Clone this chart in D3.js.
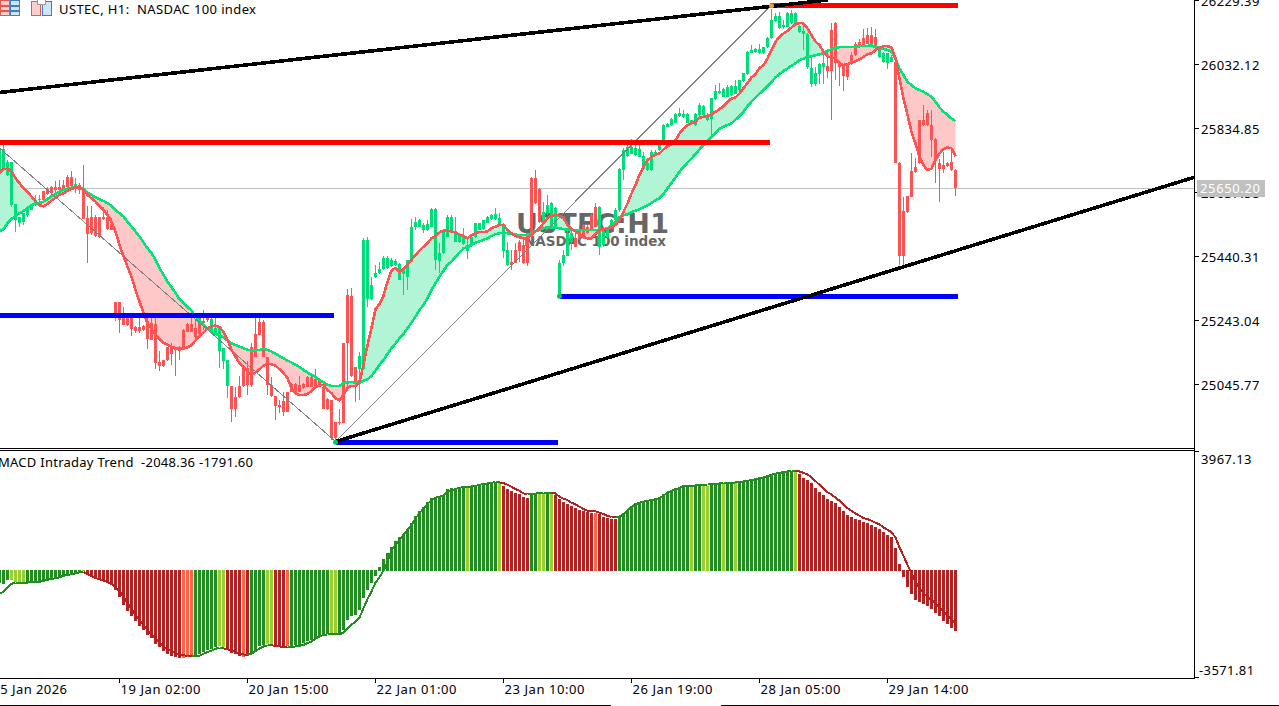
<!DOCTYPE html>
<html><head><meta charset="utf-8">
<script src="https://cdn.jsdelivr.net/npm/d3@7"></script>
<style>
html,body{margin:0;padding:0;background:#fff;overflow:hidden}
svg{display:block}
text{font-family:"Noto Sans",sans-serif;font-size:13px;fill:#000;white-space:pre}
.crisp{shape-rendering:crispEdges}
</style></head><body>
<div id="chart"></div>
<script>
const opens=[25706,25704,25690,25598,25552,25541,25546,25567,25582,25598,
25613,25641,25646,25654,25652,25652,25659,25685,25685,25649,
25659,25644,25557,25559,25561,25559,25559,25560,25539,25299,
25299,25264,25248,25252,25221,25223,25225,25241,25233,25230,
25115,25120,25159,25161,25156,25159,25213,25231,25231,25218,
25248,25241,25248,25213,25200,25146,25118,25040,25041,25005,
25041,25094,25094,25161,25200,25238,25236,25130,25043,25010,
24981,24992,25022,25046,25046,25043,25046,25067,25067,25060,
25056,25038,25001,24997,24930,24930,25171,25320,25317,25098,
25091,25091,25307,25307,25375,25387,25400,25403,25408,25413,
25367,25385,25377,25423,25531,25531,25521,25521,25531,25428,
25426,25449,25500,25516,25485,25482,25478,25457,25471,25498,
25521,25523,25543,25554,25554,25538,25457,25413,25423,25459,
25485,25475,25505,25680,25680,25646,25541,25572,25531,25531,
25317,25418,25441,25485,25495,25521,25536,25531,25567,25591,
25469,25475,25500,25531,25552,25582,25706,25748,25756,25751,
25746,25710,25705,25705,25751,25767,25797,25839,25844,25851,
25871,25869,25851,25849,25844,25875,25875,25859,25864,25923,
25943,25931,25931,25936,25941,25952,25980,26001,26067,26070,
26065,26065,26083,26111,26165,26142,26145,26147,26157,26152,
26131,26126,26024,25972,25972,26001,26024,26026,26137,26159,
26034,26029,26029,26059,26095,26101,26111,26121,26121,26116,
26054,26039,26036,26039,26039,25728,25580,25625,25703,25715,
25859,25859,25880,25844,25800,25726,25720,25728,25731,25705];
const closes=[25767,25769,25730,25730,25601,25560,25572,25591,25601,25613,
25617,25613,25632,25634,25644,25644,25646,25652,25656,25663,
25644,25555,25508,25510,25502,25500,25554,25523,25521,25248,
25243,25228,25228,25215,25209,25210,25213,25184,25182,25112,
25100,25100,25120,25139,25151,25146,25159,25207,25207,25192,
25200,25233,25243,25245,25218,25218,25156,25120,24970,24970,
25005,25040,25043,25043,25130,25197,25130,25043,25009,24978,
24974,24958,24961,25022,25022,25022,25033,25038,25038,25038,
25038,24970,24968,24879,24879,24925,24927,25171,25069,25048,
25132,25490,25490,25351,25389,25400,25433,25433,25428,25426,
25416,25403,25428,25531,25546,25550,25536,25539,25585,25585,
25449,25516,25560,25560,25508,25505,25500,25475,25498,25541,
25541,25550,25560,25567,25570,25557,25539,25459,25413,25420,
25457,25418,25418,25500,25603,25546,25577,25598,25605,25588,
25420,25444,25510,25510,25469,25495,25495,25510,25521,25531,
25591,25516,25526,25552,25582,25708,25767,25777,25777,25772,
25769,25748,25726,25762,25762,25782,25844,25847,25864,25878,
25880,25878,25877,25859,25878,25905,25902,25875,25926,25950,
25950,25954,25960,25964,25964,25982,26003,26070,26075,26077,
26077,26083,26111,26167,26180,26180,26152,26188,26188,26188,
26149,26134,26126,26021,26005,26032,26036,26011,26011,26034,
26024,25995,25991,26034,26059,26087,26090,26095,26095,26080,
26075,26065,26065,26054,25728,25440,25440,25577,25623,25700,
25726,25844,25844,25797,25736,25710,25710,25717,25705,25650.2];
const highs=[25778,25783,25737,25730,25601,25560,25572,25591,25601,25627,
25629,25641,25652,25656,25670,25675,25675,25690,25701,25680,
25665,25721,25595,25595,25567,25559,25591,25582,25557,25299,
25299,25282,25254,25254,25225,25254,25228,25254,25254,25254,
25146,25120,25161,25171,25161,25163,25215,25233,25264,25243,
25266,25274,25266,25259,25248,25223,25156,25120,25041,25038,
25069,25094,25118,25171,25252,25266,25243,25130,25067,25010,
24997,25022,25022,25048,25048,25069,25050,25071,25069,25091,
25064,25048,25002,24997,24930,24968,25171,25338,25341,25098,
25143,25495,25500,25377,25413,25423,25439,25441,25433,25430,
25418,25403,25428,25554,25562,25554,25541,25550,25588,25588,
25480,25516,25567,25567,25560,25508,25526,25495,25502,25543,
25543,25552,25564,25570,25588,25572,25541,25485,25459,25480,
25490,25500,25505,25685,25706,25649,25608,25629,25608,25590,
25428,25459,25516,25521,25510,25536,25538,25536,25572,25603,
25595,25521,25531,25554,25588,25711,25772,25787,25800,25787,
25782,25762,25731,25767,25767,25787,25847,25849,25867,25880,
25898,25890,25880,25861,25880,25913,25905,25880,25926,25967,
25974,25957,25967,25967,25982,25984,26005,26072,26090,26080,
26095,26085,26114,26203,26188,26193,26167,26193,26198,26193,
26152,26157,26128,26054,26024,26036,26059,26075,26159,26162,
26034,26029,26031,26070,26101,26108,26139,26142,26145,26139,
26077,26070,26067,26059,26042,25731,25623,25625,25758,25741,
25859,25905,25890,25890,25803,25738,25762,25731,25772,25707];
const lows=[25701,25701,25687,25591,25513,25531,25536,25560,25582,25595,
25598,25611,25629,25629,25629,25639,25644,25649,25654,25634,
25632,25555,25420,25505,25498,25495,25552,25521,25519,25241,
25204,25228,25226,25195,25202,25202,25210,25155,25180,25093,
25087,25098,25118,25105,25069,25120,25156,25205,25207,25187,
25197,25213,25238,25210,25200,25094,25091,25002,24930,24945,
25002,25038,25012,25038,25128,25197,25128,25012,25007,24935,
24956,24947,24959,25020,25020,25020,25030,25036,25036,25036,
25036,24968,24966,24874,24868,24920,24925,25028,25067,24989,
24997,25089,25284,25305,25372,25385,25398,25400,25406,25410,
25367,25320,25336,25422,25521,25529,25510,25516,25529,25398,
25387,25447,25498,25510,25482,25480,25475,25430,25469,25495,
25519,25521,25541,25552,25552,25536,25433,25410,25398,25418,
25423,25416,25408,25485,25601,25541,25539,25567,25529,25529,
25317,25408,25439,25459,25467,25490,25493,25508,25519,25529,
25444,25469,25495,25529,25550,25577,25675,25746,25754,25749,
25744,25708,25703,25703,25749,25765,25795,25837,25841,25849,
25869,25867,25849,25847,25842,25871,25872,25857,25800,25921,
25941,25929,25929,25934,25939,25950,25977,25999,26065,26067,
26063,26063,26080,26108,26162,26139,26139,26145,26155,26149,
26128,26075,26018,25960,25964,25972,25972,25988,25861,25982,
25964,25950,25984,26029,26056,26085,26085,26093,26093,26075,
26052,26036,26018,26037,25726,25412,25412,25574,25621,25697,
25724,25841,25841,25746,25666,25607,25697,25715,25703,25625];
const fastMA=[25695,25708,25710,25701,25680,25665,25649,25637,25624,25608,
25597,25593,25601,25611,25620,25629,25634,25641,25647,25652,
25652,25644,25629,25618,25608,25595,25582,25567,25546,25516,
25475,25439,25408,25377,25336,25300,25264,25233,25215,25197,
25184,25173,25166,25161,25157,25155,25155,25158,25166,25180,
25194,25204,25218,25223,25226,25221,25207,25182,25151,25130,
25110,25098,25084,25074,25081,25091,25102,25108,25107,25102,
25091,25079,25064,25033,25017,25012,25012,25015,25024,25036,
25043,25043,25028,25017,25002,24995,25012,25033,25040,25040,
25053,25105,25166,25218,25276,25293,25318,25361,25395,25403,
25392,25400,25413,25428,25444,25457,25469,25480,25495,25502,
25513,25519,25519,25515,25513,25506,25502,25495,25505,25510,
25514,25514,25516,25526,25531,25536,25536,25521,25510,25502,
25498,25495,25495,25505,25516,25526,25541,25557,25564,25567,
25564,25557,25536,25523,25516,25508,25498,25495,25495,25508,
25521,25523,25523,25529,25536,25550,25577,25602,25633,25659,
25690,25715,25736,25746,25753,25756,25769,25779,25785,25797,
25818,25833,25844,25849,25854,25867,25869,25871,25877,25885,
25893,25902,25916,25926,25929,25941,25957,25974,25991,26001,
26020,26029,26049,26075,26101,26116,26126,26134,26145,26155,
26159,26157,26142,26121,26101,26090,26070,26056,26052,26049,
26034,26029,26032,26036,26041,26046,26054,26062,26065,26075,
26082,26087,26087,26083,26049,25988,25926,25875,25823,25787,
25746,25720,25705,25710,25736,25756,25770,25775,25772,25748];
const slowMA=[25516,25523,25541,25554,25564,25572,25579,25588,25597,25603,
25603,25608,25616,25624,25632,25639,25644,25648,25651,25653,
25653,25646,25636,25629,25621,25615,25610,25603,25595,25582,
25572,25562,25546,25531,25516,25500,25482,25464,25449,25428,
25403,25382,25361,25344,25326,25307,25295,25284,25272,25254,
25241,25228,25216,25209,25200,25197,25190,25180,25171,25166,
25161,25156,25151,25149,25149,25151,25154,25151,25146,25139,
25132,25125,25118,25112,25105,25098,25089,25081,25074,25067,
25058,25051,25043,25040,25040,25040,25048,25051,25052,25050,
25050,25056,25060,25071,25087,25105,25120,25139,25156,25171,
25187,25200,25218,25235,25254,25274,25290,25310,25336,25356,
25377,25395,25413,25423,25437,25451,25464,25467,25475,25482,
25485,25490,25495,25502,25508,25510,25513,25510,25508,25506,
25505,25505,25506,25510,25516,25521,25526,25529,25529,25528,
25526,25523,25522,25521,25521,25521,25521,25521,25521,25521,
25521,25523,25526,25536,25546,25560,25566,25569,25575,25580,
25584,25590,25597,25604,25613,25618,25631,25649,25666,25682,
25700,25715,25728,25741,25754,25769,25782,25795,25808,25820,
25833,25839,25844,25849,25861,25871,25885,25902,25916,25929,
25941,25952,25964,25977,25991,26001,26011,26018,26027,26034,
26044,26049,26054,26056,26059,26062,26065,26073,26077,26082,
26084,26085,26085,26085,26085,26087,26088,26088,26089,26085,
26082,26078,26075,26070,26049,26018,25998,25977,25967,25957,
25952,25946,25939,25931,25916,25898,25885,25875,25864,25856];
const macdHist=[-444,-466,-333,-333,-388,-400,-400,-410,-410,-400,
-400,-366,-333,-288,-266,-244,-199,-167,-133,-111,
-66,-44,-111,-199,-311,-311,-355,-388,-499,-666,
-910,-1165,-1354,-1531,-1720,-1886,-2019,-2163,-2274,-2463,
-2573,-2718,-2795,-2862,-2907,-2951,-2951,-2907,-2862,-2829,
-2795,-2751,-2685,-2640,-2573,-2552,-2573,-2640,-2774,-2795,
-2884,-2907,-2884,-2795,-2662,-2552,-2496,-2463,-2496,-2573,
-2573,-2607,-2552,-2552,-2496,-2496,-2440,-2385,-2352,-2274,
-2196,-2163,-2141,-2141,-2141,-2141,-1997,-1664,-1553,-1498,
-1331,-943,-666,-421,-199,89,355,555,755,976,
1087,1187,1365,1553,1797,1963,2108,2274,2407,2440,
2463,2496,2685,2718,2718,2751,2774,2751,2774,2795,
2829,2862,2884,2907,2939,2884,2795,2685,2618,2552,
2529,2440,2407,2552,2573,2518,2518,2552,2552,2496,
2352,2274,2196,2130,2052,1997,1963,1919,1908,1886,
1864,1775,1731,1697,1697,1775,1886,1997,2130,2219,
2274,2296,2330,2363,2385,2407,2529,2607,2662,2718,
2751,2818,2829,2795,2829,2850,2806,2806,2850,2862,
2862,2907,2884,2907,2918,2928,2939,2973,2995,3028,
3062,3084,3128,3172,3239,3261,3273,3273,3305,3273,
3195,3072,2995,2907,2740,2607,2496,2363,2308,2219,
2108,1974,1830,1752,1697,1664,1608,1575,1498,1443,
1365,1276,1165,1087,743,199,-222,-555,-798,-999,
-1054,-1132,-1198,-1309,-1443,-1553,-1720,-1797,-1941,-2048.36];
const macdRuns=[["G",3],["Y",4],["G",14],["Y",1],["R",24],["T",3],["G",6],["Y",2],["R",4],["T",1],["R",1],["G",4],["Y",2],["R",3],["T",1],["G",10],["Y",2],["G",32],["Y",1],["G",7],["Y",1],["R",7],["G",2],["Y",2],["G",1],["Y",1],["R",10],["T",1],["R",5],["G",18],["Y",1],["G",2],["Y",2],["G",3],["Y",1],["G",2],["Y",1],["G",14],["Y",1],["R",40]];
const macdSignal=[-798,-721,-577,-466,-421,-421,-421,-421,-410,-400,
-400,-366,-333,-300,-277,-244,-199,-167,-144,-111,
-78,-66,-133,-199,-266,-311,-355,-410,-477,-577,
-721,-887,-1109,-1309,-1498,-1664,-1830,-1997,-2163,-2308,
-2418,-2552,-2640,-2718,-2774,-2806,-2850,-2862,-2862,-2862,
-2862,-2795,-2740,-2696,-2629,-2596,-2618,-2640,-2696,-2740,
-2795,-2818,-2840,-2795,-2706,-2618,-2552,-2518,-2518,-2529,
-2552,-2585,-2573,-2573,-2552,-2529,-2507,-2440,-2396,-2285,
-2219,-2175,-2152,-2152,-2152,-2152,-2086,-1941,-1830,-1720,
-1587,-1276,-976,-721,-421,-244,-22,277,666,832,
999,1165,1331,1498,1720,1886,2052,2196,2330,2407,
2440,2474,2607,2662,2696,2740,2762,2774,2784,2806,
2840,2862,2884,2907,2928,2918,2895,2840,2774,2696,
2640,2552,2529,2529,2552,2552,2573,2573,2573,2552,
2440,2374,2330,2241,2186,2108,2030,1974,1963,1953,
1908,1864,1797,1775,1775,1775,1864,1974,2108,2186,
2241,2274,2308,2330,2363,2396,2474,2585,2640,2685,
2740,2795,2806,2806,2818,2829,2840,2850,2850,2862,
2884,2895,2895,2907,2918,2928,2951,2973,2995,3028,
3062,3084,3128,3172,3216,3239,3261,3284,3305,3305,
3284,3239,3184,3084,2962,2840,2718,2596,2518,2407,
2308,2186,2063,1974,1886,1809,1731,1697,1642,1575,
1520,1420,1342,1253,1087,755,466,167,-89,-388,
-610,-777,-887,-999,-1109,-1250,-1386,-1520,-1660,-1791.6];
const priceTicks=[26229.39,26032.12,25834.85,25637.58,25440.31,25243.04,25045.77];
const macdTicks=[3967.13,-3571.81];
const timeTickBars=[-2,30,62,94,126,158,190,222];
const timeTickLabels=["15 Jan 2026","19 Jan 02:00","20 Jan 15:00","22 Jan 01:00","23 Jan 10:00","26 Jan 19:00","28 Jan 05:00","29 Jan 14:00"];
const lastPrice=25650.20;
const levelPrices=[25790.2,26212.4,25256.9,24865.5,25315.5];
const levelStarts=[0,192.6,0,84,140];
const levelEnds=[192.6,239.5,83.6,139.6,239.5];
const levelKinds=["resistance","resistance","support","support","support"];
const thickBars=[[0,207],[84,298.9]];
const thickPrices=[[25944.3,26229.39],[24868,25683.8]];
const thinBars=[[0,84],[84,193]];
const thinPrices=[[25773,24868.6],[24868.6,26214]];
const pivotBars=[84,140,193];
const pivotPrices=[24866,25316,26212];
const pivotKinds=["low","low","high"];

const W=1279,H=706,n=closes.length;
const UP="#00DC78",DN="#FF5252";
const histColor={G:"#228B22",Y:"#9ACD32",R:"#B22222",T:"#FF6347"};
const macdStates=macdRuns.flatMap(([s,c])=>Array(c).fill(s));

const x=d3.scaleLinear().domain([0,n-1]).range([-0.5,955.5]);
const y=d3.scaleLinear().domain([priceTicks[6],priceTicks[0]]).range([384,0]);
const ym=d3.scaleLinear().domain([macdTicks[1],macdTicks[0]]).range([677,451]);

const svg=d3.select("#chart").append("svg").attr("width",W).attr("height",H);
const defs=svg.append("defs");
defs.append("clipPath").attr("id","cMain").append("rect").attr("x",0).attr("y",0).attr("width",1194).attr("height",448);
defs.append("clipPath").attr("id","cSub").append("rect").attr("x",0).attr("y",451).attr("width",1194).attr("height",227);
const main=svg.append("g").attr("clip-path","url(#cMain)");
const sub=svg.append("g").attr("clip-path","url(#cSub)");

// last price line
main.append("line").attr("class","crisp").attr("x1",0).attr("x2",1194)
 .attr("y1",Math.round(y(lastPrice))+.5).attr("y2",Math.round(y(lastPrice))+.5).attr("stroke","#c0c0c0");

// watermark
main.append("text").attr("x",516).attr("y",232.5).text("USTEC:H1")
 .style("font-family","'DejaVu Sans'").style("font-weight","bold").style("font-size","27px").style("fill","#666")
 .attr("textLength",153).attr("lengthAdjust","spacing");
main.append("text").attr("x",524).attr("y",246).text("NASDAC 100 index")
 .style("font-family","'DejaVu Sans'").style("font-weight","bold").style("font-size","13.5px").style("fill","#666")
 .attr("textLength",142).attr("lengthAdjust","spacing");

// MA cloud
const idx=d3.range(n);
const bull=d3.area().x(i=>x(i)).y0(i=>y(slowMA[i])).y1(i=>Math.min(y(fastMA[i]),y(slowMA[i])));
const bear=d3.area().x(i=>x(i)).y0(i=>y(slowMA[i])).y1(i=>Math.max(y(fastMA[i]),y(slowMA[i])));
main.append("path").attr("d",bull(idx)).attr("fill","#b2f5d6");
main.append("path").attr("d",bear(idx)).attr("fill","#ffc8c8");

// candles
const cg=main.append("g").attr("class","crisp");
cg.selectAll("rect.w").data(idx).join("rect").attr("class","w")
 .attr("x",i=>x(i)-.5).attr("width",1)
 .attr("y",i=>Math.round(y(highs[i]))).attr("height",i=>Math.max(1,Math.round(y(lows[i]))-Math.round(y(highs[i]))))
 .attr("fill",i=>closes[i]>=opens[i]?UP:DN);
cg.selectAll("rect.b").data(idx).join("rect").attr("class","b")
 .attr("x",i=>x(i)-1.5).attr("width",3)
 .attr("y",i=>Math.round(y(Math.max(opens[i],closes[i]))))
 .attr("height",i=>Math.max(1,Math.round(y(Math.min(opens[i],closes[i])))-Math.round(y(Math.max(opens[i],closes[i])))))
 .attr("fill",i=>closes[i]>=opens[i]?UP:DN);

// MA lines
const lineOf=a=>d3.line().x(i=>x(i)).y(i=>y(a[i]))(idx);
main.append("path").attr("d",lineOf(slowMA)).attr("fill","none").attr("stroke","#00E676").attr("stroke-width",2.6).attr("stroke-linejoin","round").attr("class","crisp");
main.append("path").attr("d",lineOf(fastMA)).attr("fill","none").attr("stroke","#FF5252").attr("stroke-width",2.6).attr("stroke-linejoin","round").attr("class","crisp");

// thin zigzag
thinBars.forEach((b,k)=>main.append("line").attr("class","crisp").attr("x1",x(b[0])).attr("x2",x(b[1]))
 .attr("y1",y(thinPrices[k][0])).attr("y2",y(thinPrices[k][1])).attr("stroke","#808080").attr("stroke-width",1));

// horizontal levels
levelPrices.forEach((p,k)=>main.append("line").attr("class","crisp")
 .attr("x1",x(levelStarts[k])).attr("x2",x(levelEnds[k])).attr("y1",y(p)).attr("y2",y(p))
 .attr("stroke",levelKinds[k]==="resistance"?"#FF0000":"#0000FF").attr("stroke-width",5));

// trend lines
thickBars.forEach((b,k)=>main.append("line").attr("x1",x(b[0])).attr("x2",x(b[1]))
 .attr("y1",y(thickPrices[k][0])).attr("y2",y(thickPrices[k][1])).attr("stroke","#000").attr("stroke-width",3.6).attr("class","crisp"));

// pivots
pivotBars.forEach((b,k)=>main.append("circle").attr("cx",x(b)).attr("cy",y(pivotPrices[k])).attr("r",2.5)
 .attr("fill",pivotKinds[k]==="low"?"#00C853":"#F39C3C"));

// MACD histogram
const y0=Math.round(ym(0));
const hg=sub.append("g").attr("class","crisp");
hg.selectAll("rect").data(idx).join("rect")
 .attr("x",i=>x(i)-1.5).attr("width",3)
 .attr("y",i=>macdHist[i]>=0?Math.round(ym(macdHist[i])):y0)
 .attr("height",i=>Math.max(1,Math.abs(Math.round(ym(macdHist[i]))-y0)+(macdHist[i]>=0?1:0)))
 .attr("fill",i=>histColor[macdStates[i]]);
// signal line, coloured run by run
const sg=d3.line().x(i=>x(i)).y(i=>ym(macdSignal[i]));
d3.range(n-1).forEach(i=>{
 const s=macdStates[i+1];
 sub.append("path").attr("class","crisp").attr("d",sg([i,i+1])).attr("fill","none")
  .attr("stroke",(s==="R"||s==="T")?"#B22222":"#228B22").attr("stroke-width",2);
});

// axes
const fmt=d=>d.toFixed(2);
const axR=d3.axisRight(y).tickValues(priceTicks).tickFormat(fmt).tickSize(4).tickPadding(2);
const gy=svg.append("g").attr("transform","translate(1195,0)").call(axR);
gy.select(".domain").remove();
gy.selectAll("text").attr("y",1);
const axM=d3.axisRight(ym).tickValues(macdTicks).tickFormat(fmt).tickSize(4).tickPadding(2);
const gm=svg.append("g").attr("transform","translate(1195,0)").call(axM);
gm.select(".domain").remove();
gm.selectAll("text").attr("y",d=>d>0?8:-7).attr("x",d=>d>0?6:4);
const axT=d3.axisBottom(x).tickValues(timeTickBars).tickFormat((d,i)=>timeTickLabels[i]).tickSize(4).offset(0);
const gx=svg.append("g").attr("transform","translate(0,679)").call(axT);
gx.select(".domain").remove();
gx.selectAll("text").attr("text-anchor","start").attr("x",1).attr("y",6).attr("dy","0.71em");
svg.selectAll(".tick line").attr("class","crisp").attr("stroke","#000");
svg.selectAll(".tick text").style("font-family","'Noto Sans'").style("font-size","13px").style("fill","#000").style("letter-spacing","0.4px");
gx.selectAll("text").attr("textLength",(d,i)=>i===0?74.5:80).style("letter-spacing",null);

// frame lines
const frame=[[0,448.5,1194,448.5],[0,450.5,1195,450.5],[0,678.5,1195,678.5],[1194.5,0,1194.5,679],[0,705.5,611,705.5],[721,705.5,1279,705.5]];
frame.forEach(f=>svg.append("line").attr("class","crisp").attr("x1",f[0]).attr("y1",f[1]).attr("x2",f[2]).attr("y2",f[3]).attr("stroke","#000"));

// last price tag
svg.append("rect").attr("class","crisp").attr("x",1197).attr("y",180).attr("width",68).attr("height",17).attr("fill","#c0c0c0");
svg.append("text").attr("x",1200).attr("y",y(lastPrice)+5.5).text(lastPrice.toFixed(2)).style("fill","#fff").attr("textLength",60);

// header icons
const ic=svg.append("g").attr("class","crisp");
[[0,0,10,16,"#fbd0cc","#e0584f"],[10,0,10,16,"#cfe4f7","#3d7fc4"]].forEach(r=>{
 ic.append("rect").attr("x",r[0]+.5).attr("y",r[1]+.5).attr("width",r[2]-1).attr("height",r[3]-1).attr("fill",r[4]).attr("stroke",r[5]);
 [5,10].forEach(v=>ic.append("rect").attr("x",r[0]+1).attr("width",r[2]-2).attr("y",v).attr("height",2).attr("fill",r[5]));
});
[[31,1,10,15,"#fbd0cc","#e0584f"],[42,1,10,15,"#cfe4f7","#3d7fc4"]].forEach(r=>{
 ic.append("rect").attr("x",r[0]+.5).attr("y",r[1]+.5).attr("width",r[2]-1).attr("height",r[3]-1).attr("fill",r[4]).attr("stroke",r[5]);
});
ic.append("rect").attr("x",37.5).attr("y",-.5).attr("width",8).attr("height",5).attr("fill","#fff").attr("stroke","#999");
svg.append("text").attr("x",59).attr("y",14).text("USTEC, H1:  NASDAC 100 index").attr("textLength",197);
svg.append("text").attr("x",-2).attr("y",467).text("MACD Intraday Trend  -2048.36 -1791.60").attr("textLength",255);
</script>
</body></html>
